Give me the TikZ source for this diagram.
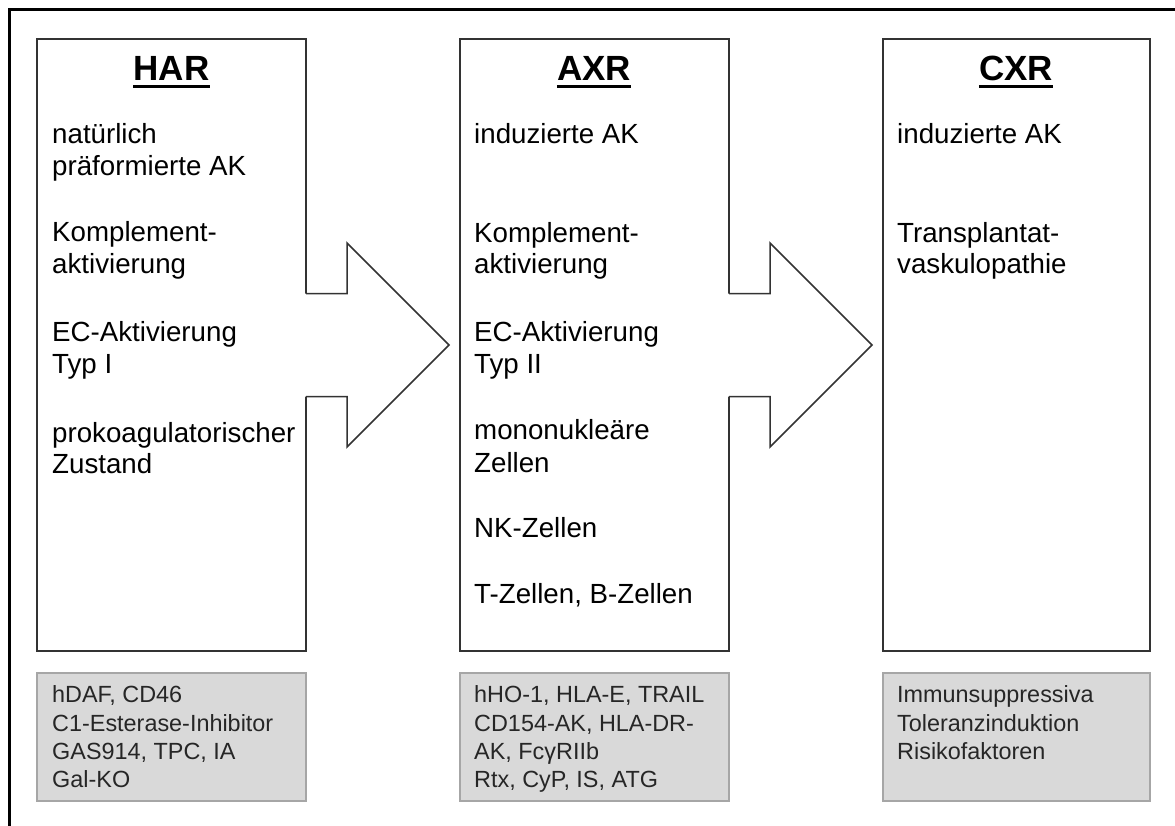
\documentclass[tikz,border=0pt]{standalone}
\usepackage{fontspec}
\setmainfont{Liberation Sans}
\usetikzlibrary{calc}
\definecolor{boxline}{HTML}{333333}
\definecolor{grayfill}{HTML}{D9D9D9}
\definecolor{grayline}{HTML}{A6A6A6}
\definecolor{graytext}{HTML}{262626}
\begin{document}
\begin{tikzpicture}[x=1pt,y=-1pt,
  mainbox/.style={draw=boxline,line width=1.5pt,fill=white,minimum width=269pt,minimum height=612pt,anchor=north west,inner sep=0pt,outer sep=0pt},
  greybox/.style={draw=grayline,line width=1.5pt,fill=grayfill,minimum width=269pt,minimum height=128pt,anchor=north west,inner sep=0pt,outer sep=0pt},
  hdr/.style={anchor=base,inner sep=0pt,font=\fontsize{35}{40}\selectfont\bfseries},
  txt/.style={anchor=base west,inner sep=0pt,font=\fontsize{27.7}{32}\selectfont},
  gtxt/.style={anchor=base west,inner sep=0pt,text=graytext,font=\fontsize{23.4}{28}\selectfont},
  arrowline/.style={draw=boxline,line width=1.5pt,line join=miter}]
\useasboundingbox (0,0) rectangle (1175,825);
\fill[white] (0,0) rectangle (1175,825);
% outer frame (top and left edges visible)
\draw[line width=3pt] (9,826) -- (9,9) -- (1176,9);

% main boxes
\node[mainbox] (harbox) at (37,39) {};
\node[mainbox] (axrbox) at (460,39) {};
\node[mainbox,minimum width=267pt] (cxrbox) at (883,39) {};

% grey boxes
\node[greybox] (hargrey) at (37,673) {};
\node[greybox] (axrgrey) at (460,673) {};
\node[greybox,minimum width=267pt] (cxrgrey) at (883,673) {};

% arrows
\foreach \b in {harbox,axrbox}{
  \coordinate (a) at (\b.east);
  \fill[white] ([shift={(-3,-51.5)}]a) -- ([shift={(41,-51.5)}]a) -- ([shift={(41,-102)}]a)
     -- ([shift={(143,0)}]a) -- ([shift={(41,102)}]a) -- ([shift={(41,51.5)}]a) -- ([shift={(-3,51.5)}]a) -- cycle;
  \draw[arrowline] ([shift={(0,-51.5)}]a) -- ([shift={(41,-51.5)}]a) -- ([shift={(41,-102)}]a)
     -- ([shift={(143,0)}]a) -- ([shift={(41,102)}]a) -- ([shift={(41,51.5)}]a) -- ([shift={(0,51.5)}]a);
}

% headers
\node[hdr] (h1) at (171.5,80) {HAR};
\node[hdr] (h2) at (594,80) {AXR};
\node[hdr] (h3) at (1016,80) {CXR};
\foreach \h in {h1,h2,h3}{
  \draw[line width=3pt] ([yshift=-6pt]\h.base west) -- ([yshift=-6pt]\h.base east);
}

% HAR text
\node[txt] (t11) at (52,143) {natürlich};
\node[txt] (t12) at (52,175) {präformierte AK};
\node[txt] (t13) at (52,241) {Komplement-};
\node[txt] (t14) at (52,273) {aktivierung};
\node[txt] (t15) at (52,341) {EC-Aktivierung};
\node[txt] (t16) at (52,373) {Typ I};
\node[txt] (t17) at (52,442) {prokoagulatorischer};
\node[txt] (t18) at (52,473) {Zustand};

% AXR text
\node[txt] (t21) at (474,143) {induzierte AK};
\node[txt] (t22) at (474,242) {Komplement-};
\node[txt] (t23) at (474,273) {aktivierung};
\node[txt] (t24) at (474,341) {EC-Aktivierung};
\node[txt] (t25) at (474,373) {Typ II};
\node[txt] (t26) at (474,439) {mononukleäre};
\node[txt] (t27) at (474,472) {Zellen};
\node[txt] (t28) at (474,537) {NK-Zellen};
\node[txt] (t29) at (474,603) {T-Zellen, B-Zellen};

% CXR text
\node[txt] (t31) at (897,143) {induzierte AK};
\node[txt] (t32) at (897,242) {Transplantat-};
\node[txt] (t33) at (897,273) {vaskulopathie};

% grey texts
\node[gtxt] (g11) at (52,702) {hDAF, CD46};
\node[gtxt] (g12) at (52,731) {C1-Esterase-Inhibitor};
\node[gtxt] (g13) at (52,759) {GAS914, TPC, IA};
\node[gtxt] (g14) at (52,787) {Gal-KO};

\node[gtxt] (g21) at (474,702) {hHO-1, HLA-E, TRAIL};
\node[gtxt] (g22) at (474,731) {CD154-AK, HLA-DR-};
\node[gtxt] (g23) at (474,759) {AK, FcγRIIb};
\node[gtxt] (g24) at (474,787) {Rtx, CyP, IS, ATG};

\node[gtxt] (g31) at (897,702) {Immunsuppressiva};
\node[gtxt] (g32) at (897,731) {Toleranzinduktion};
\node[gtxt] (g33) at (897,759) {Risikofaktoren};
\end{tikzpicture}
\end{document}
